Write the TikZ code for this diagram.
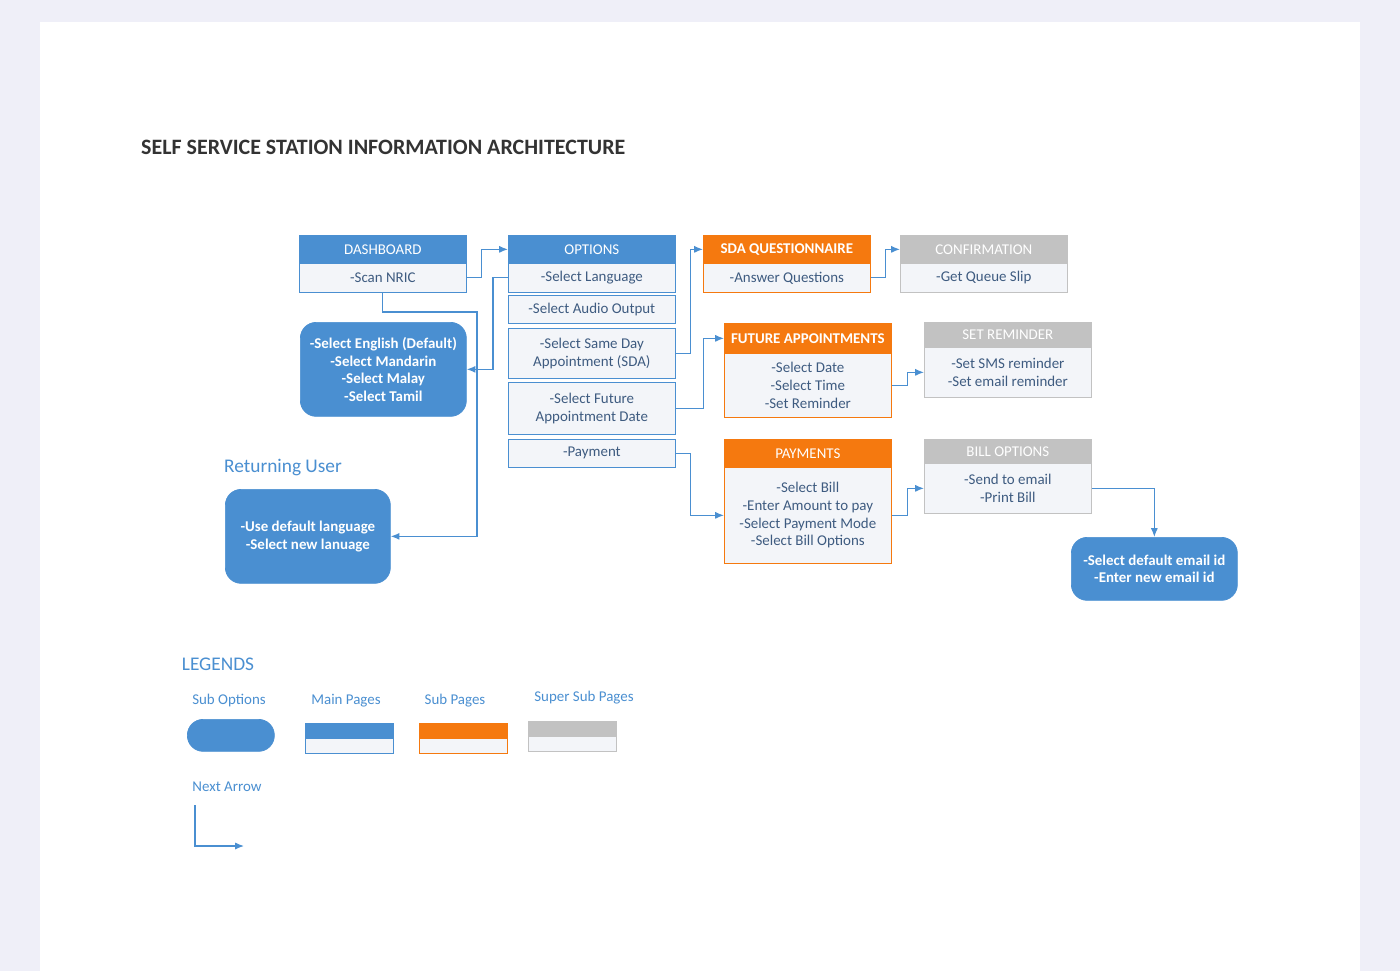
\documentclass[tikz,border=0pt]{standalone}
\usepackage{fontspec}
\setmainfont{Carlito}
\usetikzlibrary{arrows.meta}
\definecolor{bluepg}{HTML}{4A8FD1}
\definecolor{orangepg}{HTML}{F5790F}
\definecolor{graypg}{HTML}{C2C2C2}
\definecolor{txtpg}{HTML}{3E5B80}
\definecolor{bgpg}{HTML}{EFEFF8}
\definecolor{bodypg}{HTML}{F3F5F9}
\tikzset{
  small/.style={font=\fontsize{8.5}{10}\selectfont},
  hd/.style={small, anchor=north west, text=white, inner sep=1pt},
  main/.style={hd, fill=bluepg, draw=bluepg},
  sub/.style={hd, fill=orangepg, draw=orangepg},
  supsub/.style={hd, fill=graypg, draw=graypg},
  body/.style={small, anchor=north west, fill=bodypg, text=txtpg, align=center, inner sep=1pt},
  opt/.style={small, anchor=north west, fill=bluepg, draw=bluepg, rounded corners=9pt, text=white, align=center, font=\fontsize{8.5}{10}\selectfont\bfseries},
  sz/.style 2 args={minimum width=#1*0.02cm, minimum height=#2*0.02cm},
  link/.style={draw=bluepg, line width=0.7pt, -{Latex[length=5pt,width=4pt]}},
  lbl/.style={text=bluepg, font=\fontsize{8.5}{10}\selectfont},
}
\begin{document}
\begin{tikzpicture}[x=0.02cm, y=-0.02cm]
\fill[bgpg] (0,0) rectangle (1400,971);
\fill[white] (40,22) rectangle (1360,971);
\node[anchor=west, font=\fontsize{12.5}{14}\selectfont\bfseries, text=black!80] (title) at (135,147) {SELF SERVICE STATION INFORMATION ARCHITECTURE};
% main pages
\node[main, sz={167}{28}] (dashH) at (299,235) {DASHBOARD};
\node[body, draw=bluepg, sz={167}{29}] (dashB) at (299,263) {-Scan NRIC};
\node[main, sz={167}{28}] (optH) at (508,235) {OPTIONS};
\node[body, draw=bluepg, sz={167}{29}] (optLang) at (508,263) {-Select Language};
\node[body, draw=bluepg, sz={167}{28}] (optAudio) at (508,295) {-Select Audio Output};
\node[body, draw=bluepg, sz={167}{50}] (optSDA) at (508,328) {-Select Same Day\\Appointment (SDA)};
\node[body, draw=bluepg, sz={167}{52}] (optFut) at (508,382) {-Select Future\\Appointment Date};
\node[body, draw=bluepg, sz={167}{28}] (optPay) at (508,439) {-Payment};
% sub pages
\node[sub, sz={167}{28}] (sdaH) at (703,235) {\bfseries SDA QUESTIONNAIRE};
\node[body, draw=orangepg, sz={167}{29}] (sdaB) at (703,263) {-Answer Questions};
\node[sub, sz={167}{30}] (futH) at (724,323) {\bfseries FUTURE APPOINTMENTS};
\node[body, draw=orangepg, sz={167}{64}] (futB) at (724,353) {-Select Date\\-Select Time\\-Set Reminder};
\node[sub, sz={167}{28}] (payH) at (724,439) {PAYMENTS};
\node[body, draw=orangepg, sz={167}{96}] (payB) at (724,467) {-Select Bill\\-Enter Amount to pay\\-Select Payment Mode\\-Select Bill Options};
% super sub pages
\node[supsub, sz={167}{28}] (confH) at (900,235) {CONFIRMATION};
\node[body, draw=graypg, sz={167}{29}] (confB) at (900,263) {-Get Queue Slip};
\node[supsub, sz={167}{25}] (remH) at (924,322) {SET REMINDER};
\node[body, draw=graypg, sz={167}{50}] (remB) at (924,347) {-Set SMS reminder\\-Set email reminder};
\node[supsub, sz={167}{24}] (billH) at (924,439) {BILL OPTIONS};
\node[body, draw=graypg, sz={167}{50}] (billB) at (924,463) {-Send to email\\-Print Bill};
% sub options
\node[opt, sz={166}{94}] (langs) at (300,322) {-Select English (Default)\\-Select Mandarin\\-Select Malay\\-Select Tamil};
\node[lbl, font=\fontsize{11}{13}\selectfont] (retLbl) at (283,468) {Returning User};
\node[opt, sz={165}{94}] (ret) at (225,489) {-Use default language\\-Select new lanuage};
\node[opt, sz={166}{63}] (email) at (1071,537) {-Select default email id\\-Enter new email id};
% connectors
\draw[link] (dashB.east) -- ++(15,0) |- (optH.west);
\draw[link] (dashB.south) |- (477,312) |- (ret.east);
\draw[link] (optLang.west) -- ++(-15,0) |- (langs.east);
\draw[link] (optSDA.east) -- ++(15,0) |- (sdaH.west);
\draw[link] (optFut.east) -- ++(28,0) |- (futH.west);
\draw[link] (optPay.east) -- ++(15,0) |- (payB.west);
\draw[link] (sdaB.east) -- ++(15,0) |- (confH.west);
\draw[link] (futB.east) -- ++(16,0) |- (remB.west);
\draw[link] (payB.east) -- ++(16,0) |- (billB.west);
\draw[link] (billB.east) -| (email.north);
% legends
\node[lbl, font=\fontsize{11}{13}\selectfont] (legTitle) at (218,664) {LEGENDS};
\node[lbl] (legOptL) at (229,701) {Sub Options};
\node[lbl] (legMainL) at (346,701) {Main Pages};
\node[lbl] (legSubL) at (455,701) {Sub Pages};
\node[lbl] (legSupL) at (584,698) {Super Sub Pages};
\node[opt, sz={87}{32}] (legOpt) at (187,719) {};
\node[main, sz={88}{15}] (legMainH) at (305,723) {};
\node[body, draw=bluepg, sz={88}{15}] (legMainB) at (305,738) {};
\node[sub, sz={88}{15}] (legSubH) at (419,723) {};
\node[body, draw=orangepg, sz={88}{15}] (legSubB) at (419,738) {};
\node[supsub, sz={88}{15}] (legSupH) at (528,721) {};
\node[body, draw=graypg, sz={88}{15}] (legSupB) at (528,736) {};
\node[lbl] (legArrL) at (227,787) {Next Arrow};
\coordinate (arrA) at (195,805);
\coordinate (arrB) at (244,846);
\draw[link] (arrA) |- (arrB);
\end{tikzpicture}
\end{document}
